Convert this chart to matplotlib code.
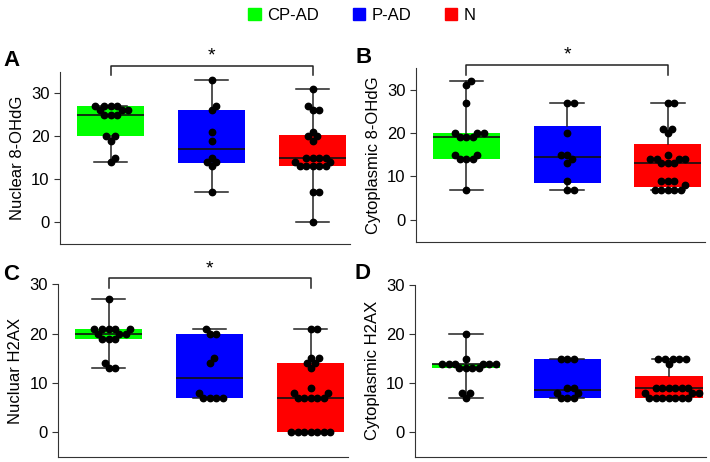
import numpy as np
import matplotlib
matplotlib.use("Agg")
import matplotlib.pyplot as plt
from matplotlib.patches import Patch

plt.rcParams['font.family'] = ['Liberation Sans', 'DejaVu Sans']

groups = ["CP-AD", "P-AD", "N"]
colors = ["#00ff00", "#0000ff", "#ff0000"]

# 各パネルの点データ (目視で読み取った値)
a_vals = [
    [27, 27, 27, 27, 26, 26, 26, 25, 25, 25, 20, 20, 19, 15, 14],
    [33, 27, 26, 21, 19, 15, 14, 14, 13, 7],
    [31, 27, 26, 26, 21, 20, 20, 19, 15, 15, 15, 15, 14, 14, 13, 13, 13, 13, 13, 7, 7, 0],
]
b_vals = [
    [32, 31, 27, 20, 20, 20, 19, 19, 19, 15, 15, 14, 14, 14, 7],
    [27, 27, 20, 15, 15, 14, 13, 9, 7, 7],
    [27, 27, 21, 21, 20, 15, 14, 14, 14, 14, 13, 13, 13, 9, 9, 9, 8, 7, 7, 7, 7, 7],
]
c_vals = [
    [27, 21, 21, 21, 21, 21, 20, 20, 20, 19, 19, 19, 14, 13, 13],
    [21, 20, 20, 15, 14, 8, 7, 7, 7, 7],
    [21, 21, 15, 15, 14, 14, 13, 9, 8, 8, 7, 7, 7, 7, 7, 0, 0, 0, 0, 0, 0, 0],
]
d_vals = [
    [20, 15, 14, 14, 14, 14, 14, 14, 13, 13, 13, 13, 8, 8, 7],
    [15, 15, 15, 9, 9, 8, 8, 7, 7, 7],
    [15, 15, 15, 15, 15, 14, 9, 9, 9, 9, 9, 9, 8, 8, 8, 7, 7, 7, 7, 7, 7, 7],
]

# 箱ひげ図の統計量 [Q1, 中央値, Q3, 下ひげ, 上ひげ]
a_box = [[20, 25, 27, 14, 27], [13.8, 17, 26.2, 7, 33], [13.1, 15, 20.4, 0, 31]]
b_box = [[14, 19, 20, 7, 32], [8.6, 14.5, 21.7, 7, 27], [7.6, 13, 17.5, 7, 27]]
c_box = [[19, 20, 21, 13, 27], [7, 11, 20, 7, 21], [0, 7, 14, 0, 21]]
d_box = [[13, 14, 14, 7, 20], [7, 8.5, 15, 7, 15], [7, 9, 11.5, 7, 15]]

y_labels = ["Nuclear 8-OHdG", "Cytoplasmic 8-OHdG", "Nucluar H2AX", "Cytoplasmic H2AX"]
letters = ["A", "B", "C", "D"]


def swarm_offsets(ax, x0, values, diam=6.2):
    """ピクセル空間で重ならないように点を横にずらす (簡易 beeswarm)"""
    placed = []
    offsets = []
    px_per_x = ax.transData.transform((1, 0))[0] - ax.transData.transform((0, 0))[0]
    for v in values:
        py = ax.transData.transform((x0, v))[1]
        best = 0.0
        for k in range(0, 200):
            for cand in ([0.0] if k == 0 else [k * 0.5, -k * 0.5]):
                ok = True
                for (qx, qy) in placed:
                    if (qx - cand) ** 2 + (qy - py) ** 2 < diam ** 2:
                        ok = False
                        break
                if ok:
                    best = cand
                    break
            else:
                continue
            break
        placed.append((best, py))
        offsets.append(best / px_per_x)
    return offsets


def draw_panel(ax, vals, boxes, ylim, ylabel):
    ax.set_xlim(0.5, 3.37)
    ax.set_ylim(*ylim)
    stats = []
    for b in boxes:
        stats.append({"q1": b[0], "med": b[1], "q3": b[2], "whislo": b[3], "whishi": b[4]})
    bp = ax.bxp(stats, positions=[1, 2, 3], widths=0.665, patch_artist=True,
                showfliers=False,
                boxprops=dict(linewidth=0),
                medianprops=dict(color="#111111", linewidth=1.2),
                whiskerprops=dict(color="#222222", linewidth=1.1),
                capprops=dict(color="#222222", linewidth=1.1))
    for patch, c in zip(bp["boxes"], colors):
        patch.set_facecolor(c)
        patch.set_edgecolor(c)
    for i, v in enumerate(vals):
        v_sorted = sorted(v)
        offs = swarm_offsets(ax, i + 1, v_sorted)
        ax.plot([i + 1 + o for o in offs], v_sorted, "o", color="black",
                markersize=4.6, zorder=5, clip_on=False)
    ax.spines["top"].set_visible(False)
    ax.spines["right"].set_visible(False)
    ax.spines["left"].set_color("#333333")
    ax.spines["bottom"].set_color("#333333")
    ax.spines["left"].set_bounds(ylim[0], ylim[1])
    ax.set_xticks([])
    ax.set_yticks([0, 10, 20, 30])
    ax.tick_params(axis="y", labelsize=12, length=4, color="#333333")
    ax.set_ylabel(ylabel, fontsize=12)
    ax.yaxis.set_label_coords(-0.12, 0.5)


def bracket(ax, y_low, y_high, y_star):
    ax.plot([1, 1, 3, 3], [y_low, y_high, y_high, y_low], color="#222222",
            linewidth=1.1, clip_on=False)
    ax.text(2, y_star, "*", ha="center", va="center", fontsize=14, clip_on=False)


fig = plt.figure(figsize=(7.1, 4.62), dpi=100)
ax_a = fig.add_axes([0.0845, 0.472, 0.4085, 0.373])
ax_b = fig.add_axes([0.586, 0.477, 0.407, 0.376])
ax_c = fig.add_axes([0.082, 0.0115, 0.408, 0.373])
ax_d = fig.add_axes([0.5845, 0.0115, 0.4105, 0.3715])

draw_panel(ax_a, a_vals, a_box, (-5, 35), y_labels[0])
draw_panel(ax_b, b_vals, b_box, (-5, 35), y_labels[1])
draw_panel(ax_c, c_vals, c_box, (-5, 30), y_labels[2])
draw_panel(ax_d, d_vals, d_box, (-5, 30), y_labels[3])

bracket(ax_a, 34.2, 36.3, 38.6)
bracket(ax_b, 33.4, 35.7, 38.0)
bracket(ax_c, 29.2, 31.2, 33.2)

fig.text(0.016, 0.87, "A", fontsize=16, fontweight="bold", ha="center", va="center")
fig.text(0.512, 0.876, "B", fontsize=16, fontweight="bold", ha="center", va="center")
fig.text(0.015, 0.405, "C", fontsize=16, fontweight="bold", ha="center", va="center")
fig.text(0.51, 0.407, "D", fontsize=16, fontweight="bold", ha="center", va="center")

handles = [Patch(facecolor=c, edgecolor=c) for c in colors]
fig.legend(handles, groups, loc="upper center", bbox_to_anchor=(0.51, 1.015), ncol=3,
           frameon=False, fontsize=12, handlelength=0.75, handleheight=0.75,
           handletextpad=0.4, columnspacing=2.0)

plt.savefig("out.png", dpi=100)
plt.close()
